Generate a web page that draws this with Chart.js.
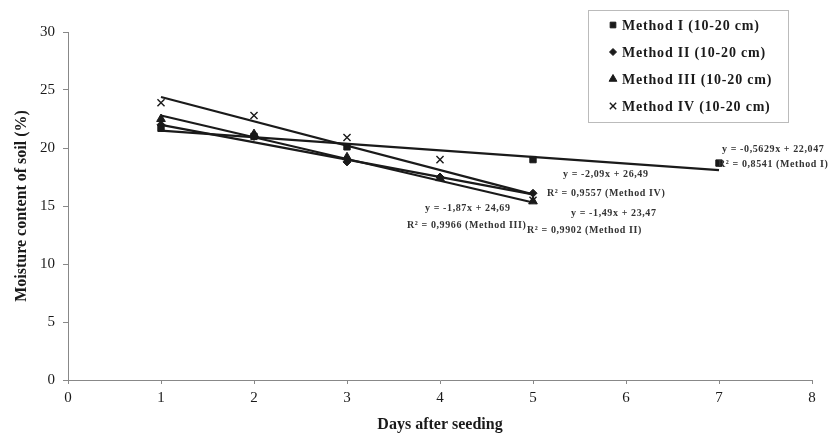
<!DOCTYPE html>
<html lang="en">

<head>
    <meta charset="UTF-8">
    <title>Moisture content of soil</title>
    <style>
        html, body { margin: 0; padding: 0; background: #fff; }
        .chart-box { width: 833px; height: 433px; }
    </style>
</head>

<body>
    <div class="chart-box">
        <canvas id="myChart" width="833" height="433"></canvas>
    </div>

    <script src="https://cdn.jsdelivr.net/npm/chart.js"></script>

    <script>
        // values
        const days = [1, 2, 3, 4, 5];
        const daysMethodI = [1, 2, 3, 5, 7];
        const methodI = [21.7, 21.0, 20.1, 19.0, 18.7];
        const methodII = [22.0, 21.0, 18.8, 17.5, 16.1];
        const methodIII = [22.5, 21.2, 19.2, 17.4, 15.4];
        const methodIV = [23.9, 22.8, 20.9, 19.0, 15.5];

        // trend line ends
        const trendDaysI = [1, 7];
        const trendDays = [1, 5];
        const trendI = [21.5, 18.1];
        const trendII = [22.0, 16.0];
        const trendIII = [22.8, 15.3];
        const trendIV = [24.4, 16.0];

        const seriesNames = ['Method I (10-20 cm)', 'Method II (10-20 cm)', 'Method III (10-20 cm)', 'Method IV (10-20 cm)'];
        const yTicks = [0, 5, 10, 15, 20, 25, 30];
        const xTicks = [0, 1, 2, 3, 4, 5, 6, 7, 8];

        const equations = [
            { text: 'y = -0,5629x + 22,047', x: 722, y: 149 },
            { text: 'R² = 0,8541 (Method I)', x: 718, y: 164 },
            { text: 'y = -2,09x + 26,49', x: 563, y: 174 },
            { text: 'R² = 0,9557 (Method IV)', x: 547, y: 193 },
            { text: 'y = -1,87x + 24,69', x: 425, y: 208 },
            { text: 'R² = 0,9966 (Method III)', x: 407, y: 225 },
            { text: 'y = -1,49x + 23,47', x: 571, y: 213 },
            { text: 'R² = 0,9902 (Method II)', x: 527, y: 230 }
        ];
    </script>

    <script>
        const ink = '#1a1a1a';
        const serif = "'Liberation Serif', 'DejaVu Serif', serif";
        const markerStyles = ['rect', 'rectRot', 'triangle', 'crossRot'];
        const markerSizes = [4.5, 4, 5, 5];

        function toPoints(xs, ys) {
            return xs.map((x, i) => ({ x: x, y: ys[i] }));
        }

        function trendSet(xs, ys) {
            return {
                type: 'line',
                data: toPoints(xs, ys),
                showLine: true,
                borderColor: ink,
                borderWidth: 2.2,
                pointRadius: 0,
                fill: false
            };
        }

        function markerSet(label, xs, ys, idx) {
            return {
                type: 'scatter',
                label: label,
                data: toPoints(xs, ys),
                pointStyle: markerStyles[idx],
                pointRadius: markerSizes[idx],
                backgroundColor: ink,
                borderColor: ink,
                borderWidth: idx === 3 ? 1.4 : 1
            };
        }

        // legend box and equation labels drawn on top
        const extrasPlugin = {
            id: 'extras',
            afterDraw(chart) {
                const ctx = chart.ctx;
                ctx.save();

                // equations
                ctx.fillStyle = '#333';
                ctx.font = "bold 10px " + serif;
                ctx.letterSpacing = '0.6px';
                ctx.textAlign = 'left';
                ctx.textBaseline = 'middle';
                equations.forEach(eq => ctx.fillText(eq.text, eq.x, eq.y));

                // legend
                const boxX = 588, boxY = 10, boxW = 200, boxH = 112;
                ctx.strokeStyle = '#bbb';
                ctx.lineWidth = 1;
                ctx.strokeRect(boxX + 0.5, boxY + 0.5, boxW, boxH);

                ctx.font = "bold 14px " + serif;
                ctx.letterSpacing = '0.8px';
                ctx.fillStyle = ink;
                seriesNames.forEach((name, i) => {
                    const rowY = boxY + 15 + i * 27;
                    ctx.strokeStyle = ink;
                    ctx.fillStyle = ink;
                    ctx.lineWidth = i === 3 ? 1.4 : 1;
                    Chart.helpers.drawPoint(ctx, {
                        pointStyle: markerStyles[i],
                        radius: markerSizes[i] - 0.5,
                        borderWidth: 1,
                        rotation: 0
                    }, boxX + 25, rowY);
                    ctx.fillText(name, boxX + 34, rowY + 1);
                });

                ctx.restore();
            }
        };

        const whiteBg = {
            id: 'whiteBg',
            beforeDraw(chart) {
                const ctx = chart.ctx;
                ctx.save();
                ctx.fillStyle = '#fff';
                ctx.fillRect(0, 0, chart.width, chart.height);
                ctx.restore();
            }
        };

        const ctx = document.getElementById('myChart');

        new Chart(ctx, {
            type: 'scatter',
            data: {
                datasets: [
                    trendSet(trendDaysI, trendI),
                    trendSet(trendDays, trendII),
                    trendSet(trendDays, trendIII),
                    trendSet(trendDays, trendIV),
                    markerSet(seriesNames[0], daysMethodI, methodI, 0),
                    markerSet(seriesNames[1], days, methodII, 1),
                    markerSet(seriesNames[2], days, methodIII, 2),
                    markerSet(seriesNames[3], days, methodIV, 3)
                ]
            },
            options: {
                responsive: false,
                animation: false,
                layout: {
                    padding: { top: 32, right: 21, left: 0, bottom: 0 }
                },
                plugins: {
                    legend: { display: false },
                    tooltip: { enabled: false }
                },
                scales: {
                    x: {
                        type: 'linear',
                        min: xTicks[0],
                        max: xTicks[xTicks.length - 1],
                        afterBuildTicks: (scale) => { scale.ticks = xTicks.map(v => ({ value: v })); },
                        afterFit: (scale) => { scale.height = 53; },
                        grid: { drawOnChartArea: false, drawTicks: true, tickLength: 4, color: '#888' },
                        border: { display: true, color: '#888', width: 1 },
                        ticks: {
                            color: ink,
                            padding: 5,
                            font: { family: serif, size: 15 },
                            maxRotation: 0
                        },
                        title: {
                            display: true,
                            text: 'Days after seeding',
                            color: ink,
                            font: { family: serif, size: 16, weight: 'bold', lineHeight: 1 },
                            padding: { top: 0, bottom: 0 }
                        }
                    },
                    y: {
                        min: yTicks[0],
                        max: yTicks[yTicks.length - 1],
                        afterBuildTicks: (scale) => { scale.ticks = yTicks.map(v => ({ value: v })); },
                        afterFit: (scale) => { scale.width = 68; },
                        grid: { drawOnChartArea: false, drawTicks: true, tickLength: 5, color: '#888' },
                        border: { display: true, color: '#888', width: 1 },
                        ticks: {
                            color: ink,
                            padding: 8,
                            font: { family: serif, size: 15 }
                        },
                        title: {
                            display: true,
                            text: 'Moisture content of soil (%)',
                            color: ink,
                            font: { family: serif, size: 16, weight: 'bold', lineHeight: 1.2 },
                            padding: { top: 12, bottom: 0 }
                        }
                    }
                }
            },
            plugins: [whiteBg, extrasPlugin]
        });
    </script>
</body>

</html>
